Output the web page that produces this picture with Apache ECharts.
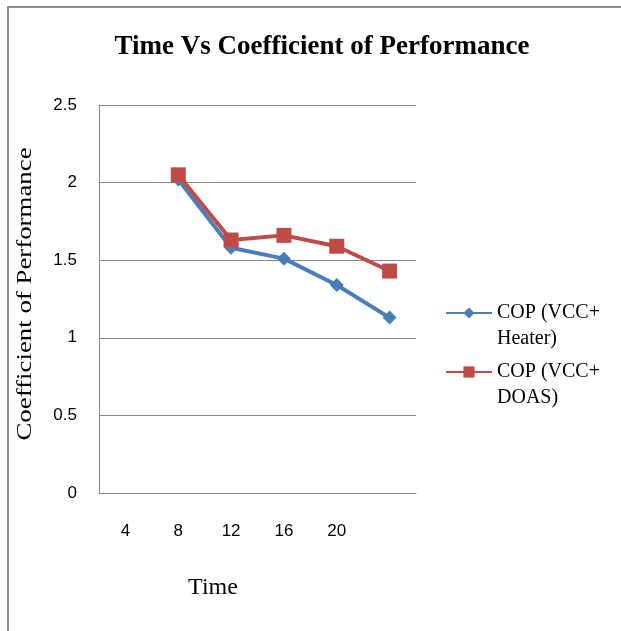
<!DOCTYPE html>
<html>
<head>
<meta charset="utf-8">
<script src="https://cdn.jsdelivr.net/npm/echarts@6/dist/echarts.min.js"></script>
<style>
html,body{margin:0;padding:0;background:#fff;}
#frame{position:absolute;left:7px;top:6px;width:640px;height:640px;border-top:2px solid #8c8c8c;border-left:2px solid #8c8c8c;}
#chart{position:absolute;left:0;top:0;width:621px;height:631px;}
</style>
</head>
<body>
<div id="frame"></div>
<div id="chart"></div>
<script>
var categories = ['4', '8', '12', '16', '20', ''];
var heaterValues = [null, 2.02, 1.58, 1.51, 1.34, 1.13];
var doasValues = [null, 2.05, 1.63, 1.66, 1.59, 1.43];
var yTicks = { min: 0, max: 2.5, interval: 0.5 };
var seriesNames = ['COP (VCC+\nHeater)', 'COP (VCC+\nDOAS)'];
var yAxisTitle = 'Coefficient of Performance';

var chart = echarts.init(document.getElementById('chart'), null, { renderer: 'canvas' });
chart.setOption({
  backgroundColor: 'transparent',
  animation: false,
  title: [{
    text: 'Time Vs Coefficient of Performance',
    left: 317,
    textAlign: 'center',
    top: 29,
    textStyle: { fontFamily: 'Liberation Serif', fontWeight: 'bold', fontSize: 27, color: '#000' }
  }, {
    text: 'Time',
    left: 208,
    textAlign: 'center',
    top: 571,
    textStyle: { fontFamily: 'Liberation Serif', fontWeight: 'normal', fontSize: 24, color: '#000' }
  }],
  graphic: [{
    type: 'text',
    x: 25,
    y: 294,
    rotation: Math.PI / 2,
    scaleX: 1.22,
    style: {
      text: yAxisTitle,
      font: '22px "Liberation Serif"',
      fill: '#000',
      textAlign: 'center',
      textVerticalAlign: 'middle'
    }
  }],
  grid: { left: 99, right: 205, top: 105, bottom: 138 },
  legend: {
    orient: 'vertical',
    left: 445,
    top: 274,
    padding: 0,
    itemWidth: 46,
    itemHeight: 14,
    itemGap: -19,
    data: seriesNames,
    formatter: function (name) { return '\n' + name; },
    textStyle: { fontFamily: 'Liberation Serif', fontSize: 20, color: '#000', lineHeight: 26 }
  },
  xAxis: {
    type: 'category',
    data: categories,
    boundaryGap: true,
    axisLine: { lineStyle: { color: '#868686', width: 1 } },
    axisTick: { show: false },
    axisLabel: { margin: 30, fontFamily: 'Liberation Sans', fontSize: 17, color: '#000', interval: 0 }
  },
  yAxis: {
    type: 'value',
    min: yTicks.min,
    max: yTicks.max,
    interval: yTicks.interval,
    axisLine: { show: true, lineStyle: { color: '#868686', width: 1 } },
    axisTick: { show: false },
    splitLine: { lineStyle: { color: '#868686', width: 1 } },
    axisLabel: { margin: 22, fontFamily: 'Liberation Sans', fontSize: 17, color: '#000' }
  },
  series: [{
    name: seriesNames[0],
    type: 'line',
    data: heaterValues,
    symbol: 'diamond',
    symbolSize: 14,
    color: '#4A7EBB',
    lineStyle: { width: 4, color: '#4A7EBB' },
    itemStyle: { color: '#4A7EBB' }
  }, {
    name: seriesNames[1],
    type: 'line',
    data: doasValues,
    symbol: 'rect',
    symbolSize: 15,
    color: '#BE4B48',
    lineStyle: { width: 4, color: '#BE4B48' },
    itemStyle: { color: '#BE4B48' }
  }]
});
</script>
</body>
</html>
